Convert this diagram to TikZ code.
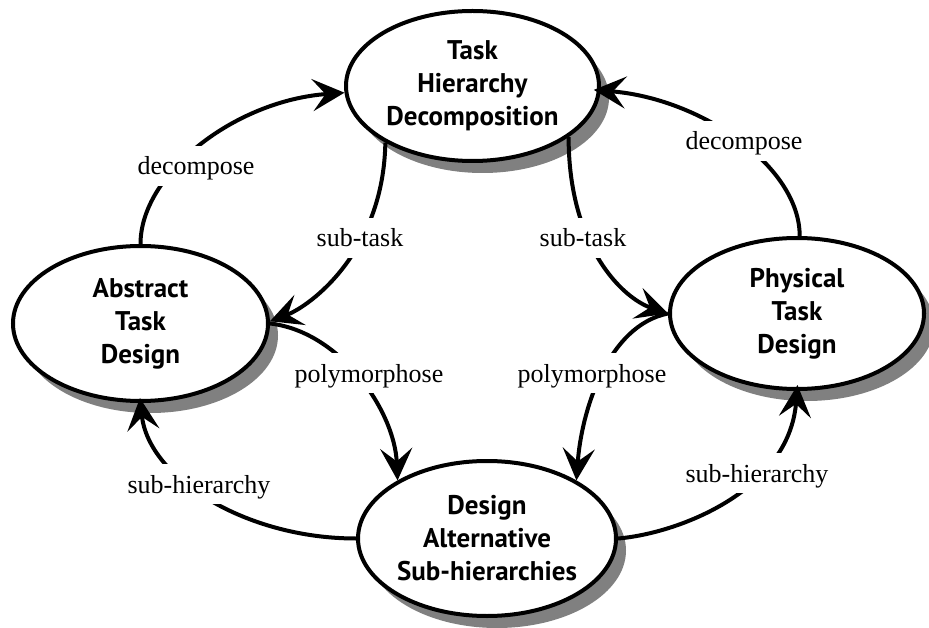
\documentclass[tikz,border=0pt]{standalone}
\usepackage{fontspec}
\setmainfont{Liberation Serif}
\newfontfamily\nodefont{PT Sans}
\usetikzlibrary{arrows.meta,shapes.geometric,shadows}

\begin{document}
\begin{tikzpicture}[x=1pt,y=-1pt,
  stage/.style={ellipse, draw=black, line width=4pt, fill=white, inner sep=0pt, align=center,
    font=\nodefont\bfseries\fontsize{27}{33}\selectfont,
    drop shadow={shadow xshift=10pt, shadow yshift=-12pt, fill=black!50, opacity=1}},
  flow/.style={line width=4pt, -{Stealth[length=32pt,width=32pt,inset=13pt]}},
  tag/.style={fill=white, inner xsep=3pt, inner ysep=3pt, text height=26pt, text depth=8pt,
    font=\fontsize{26}{30}\selectfont, anchor=base}]

\useasboundingbox (0,0) rectangle (929,628);

% the four design stages
\node[stage, minimum width=253pt, minimum height=150pt] (tsk) at (472.5,86) {Task\\Hierarchy\\Decomposition};
\node[stage, minimum width=255pt, minimum height=155pt] (abs) at (140.5,323.5) {Abstract\\Task\\Design};
\node[stage, minimum width=254pt, minimum height=151pt] (phy) at (797,313.5) {Physical\\Task\\Design};
\node[stage, minimum width=258pt, minimum height=155pt] (dal) at (487,538.5) {Design\\Alternative\\Sub-hierarchies};

% transitions between the stages
\draw[flow] (abs.90) .. controls +(0,-70) and +(-110,8) .. (tsk.183);
\draw[flow, shorten >=-7pt] (phy.88) .. controls +(0,-70) and +(100,8) .. (tsk.358);
\draw[flow] (tsk.213) .. controls +(-2,110) and +(40,-15) .. (abs.1);
\draw[flow] (tsk.332) .. controls +(0,110) and +(-45,-15) .. (phy.180);
\draw[flow] (abs.0) .. controls +(70,8) and +(-3,-70) .. (dal.147);
\draw[flow] (phy.180) .. controls +(-60,12) and +(5,-70) .. (dal.33);
\draw[flow, shorten >=-5pt] (dal.180) .. controls +(-110,0) and +(8,75) .. (abs.270);
\draw[flow, shorten >=-6pt] (dal.0) .. controls +(60,-5) and +(-8,100) .. (phy.270);

% transition labels, cut into the lines
\node[tag] (decL) at (196,175) {decompose};
\node[tag] (decR) at (744,150) {decompose};
\node[tag] (stL) at (360,247) {sub-task};
\node[tag] (stR) at (583,247) {sub-task};
\node[tag] (polL) at (369,382) {polymorphose};
\node[tag] (polR) at (592,382) {polymorphose};
\node[tag] (shL) at (199,493) {sub-hierarchy};
\node[tag] (shR) at (757,482) {sub-hierarchy};
\end{tikzpicture}
\end{document}
